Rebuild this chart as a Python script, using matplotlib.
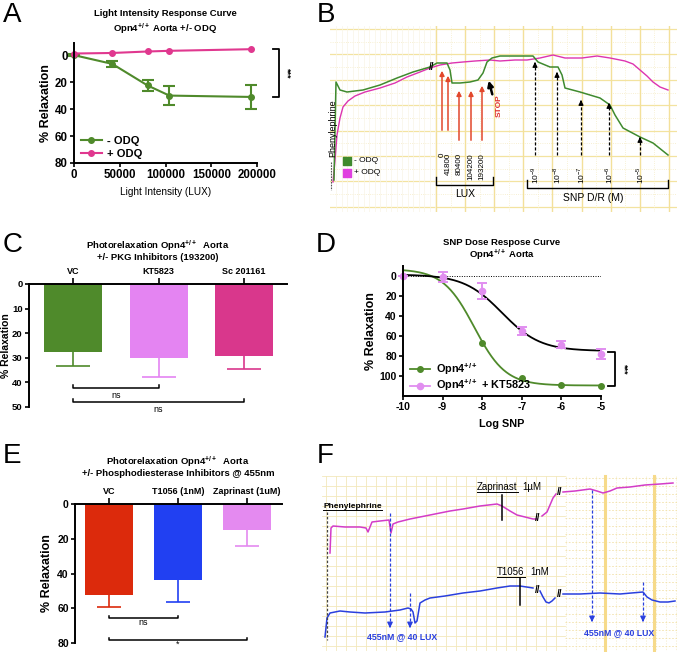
#!/usr/bin/env python3
"""
Photorelaxation figure: light response, traces, PKG/PDE inhibitors, SNP dose response
"""

import numpy as np
import matplotlib
matplotlib.use('Agg')
import matplotlib.pyplot as plt

plt.rcParams['font.family'] = ['Liberation Sans', 'DejaVu Sans']
plt.rcParams['mathtext.fontset'] = 'custom'
plt.rcParams['mathtext.rm'] = 'Liberation Sans'
plt.rcParams['mathtext.bf'] = 'Liberation Sans:bold'
plt.rcParams['axes.unicode_minus'] = False

# ---- A: light intensity response ----
lux = [0, 41800, 80400, 104200, 193200]
minus_odq = [0, 6.5, 22.5, 30, 31]
minus_odq_err = [0.5, 2.2, 4.2, 7, 9]
plus_odq = [-1.2, -1.6, -2.7, -3.2, -4.4]

# ---- B: tension recording (chart units) ----
b_pink_t = [333, 335, 337, 340, 343, 348, 355, 365, 380, 395, 407, 420, 430, 440, 452, 463,
            475, 490, 500, 515, 527, 540, 553, 565, 582, 597, 610, 625, 633, 640, 647, 653, 660, 668]
b_pink_y = [182, 160, 135, 118, 107, 101, 96, 92, 88, 83, 77, 72, 68, 65, 63, 62,
            61, 60, 61, 60, 60, 58, 55, 58, 58, 56, 58, 61, 64, 70, 76, 82, 87, 90]
b_green_t = [334, 336, 340, 347, 363, 380, 397, 413, 430, 437, 447, 450, 452, 460, 470, 478,
             483, 487, 492, 500, 533, 538, 550, 558, 562, 565, 580, 600, 610, 615, 623, 640, 653, 668]
b_green_y = [180, 82, 90, 92, 90, 85, 78, 72, 67, 63, 63, 70, 83, 83, 82, 80,
             73, 62, 58, 56, 56, 62, 67, 67, 75, 88, 92, 98, 105, 115, 128, 137, 143, 155]
lux_labels = ['0', '41800', '80400', '104200', '193200']
lux_arrow_t = [442, 448, 459, 471, 482]
lux_arrow_tip = [68, 73, 88, 88, 83]
lux_arrow_base = [133, 133, 143, 143, 143]
snp_labels = ['-9', '-8', '-7', '-6', '-5']
snp_arrow_t = [535, 557, 581, 609, 640]
snp_arrow_tip = [62, 72, 100, 103, 137]
snp_arrow_base = [155, 155, 155, 155, 155]

# ---- C: PKG inhibitors ----
pkg_groups = ['VC', 'KT5823', 'Sc 201161']
pkg_mean = [27.5, 30.2, 29.2]
pkg_err = [6.0, 7.8, 5.3]
pkg_colors = ['#4f8a2b', '#e484f2', '#d9378c']

# ---- D: SNP dose response ----
log_snp = [-10, -9, -8, -7, -6, -5]
opn_resp = [None, None, 67, 102, 108.5, 109.5]
kt_resp = [0, 1, 15, 55, 68.5, 78]
kt_err = [0, 5, 8, 4, 3.5, 5]
opn_fit = dict(bottom=-7, top=109.5, logec50=-8.2, hill=1.1)
kt_fit = dict(bottom=-1.5, top=75, logec50=-7.5, hill=0.9)

# ---- E: PDE inhibitors ----
pde_groups = ['VC', 'T1056 (1nM)', 'Zaprinast (1uM)']
pde_mean = [52.5, 44, 15]
pde_err = [6.5, 12.5, 9]
pde_colors = ['#dc2a0c', '#2140f2', '#e48af0']

# ---- F: tension recording (chart units) ----
f_pink_segs = [
    ([330, 331, 333, 345, 360, 366, 368, 372, 380, 389, 391, 393, 398, 410, 430, 450, 463, 480,
      497, 502, 510, 517, 525, 533, 537],
     [553, 528, 526, 527, 527, 528, 532, 522, 521, 520, 533, 524, 522, 519, 515, 511, 509, 506,
      504, 506, 511, 515, 517, 519, 519]),
    ([542, 547, 550, 553, 556], [516, 512, 505, 498, 494]),
    ([563, 575, 590, 597, 603, 610, 617, 630, 645, 660, 673],
     [492, 491, 489, 491, 493, 491, 488, 487, 485, 484, 483]),
]
f_blue_segs = [
    ([325, 327, 330, 340, 350, 365, 385, 400, 408, 411, 413, 415, 417, 420, 425, 430, 445, 463,
      480, 497, 510, 520, 533],
     [637, 618, 613, 611, 612, 613, 612, 610, 608, 609, 612, 623, 621, 603, 600, 598, 596, 593,
      591, 588, 586, 586, 588]),
    ([540, 543, 546, 549, 552, 555], [591, 597, 602, 603, 601, 598]),
    ([563, 580, 600, 620, 643, 647, 652, 660, 668, 675],
     [594, 594, 593, 594, 592, 597, 600, 602, 602, 601]),
]
f_light_t = [390, 410, 592, 643]
f_light_top = [513, 593, 490, 582]
f_light_tip = [628, 628, 622, 622]

GREEN = '#4f8a2b'
PINK = '#e0388f'
SUP = r'$^{\mathbf{+/+}}$'
W, H = 677, 655
fig = plt.figure(figsize=(W / 100, H / 100), dpi=100)


def px_axes(left, top, right, bottom):
    return fig.add_axes([left / W, 1 - bottom / H, (right - left) / W, (bottom - top) / H])


def ftext(x, y, s, **kw):
    kw.setdefault('ha', 'center')
    kw.setdefault('va', 'center')
    return fig.text(x / W, 1 - y / H, s, **kw)


def hill(x, bottom, top, logec50, hill):
    return bottom + (top - bottom) / (1 + 10 ** ((logec50 - x) * hill))


def style_graph(ax, size=7.5):
    for lab in ax.get_xticklabels() + ax.get_yticklabels():
        lab.set_fontweight('bold')
        lab.set_fontsize(size)
    ax.tick_params(width=1.2, length=3, pad=1.5)
    for sp in ax.spines.values():
        sp.set_linewidth(1.4)


def bar_errors(ax, xs, means, errs, colors, cap):
    for x, m, e, c in zip(xs, means, errs, colors):
        eb = ax.errorbar(x, m, yerr=[[0], [e]], fmt='none', ecolor=c, elinewidth=1.2,
                         capsize=cap, capthick=1.2)
        eb[1][0].set_visible(False)


def sig_bracket(ax, x0, x1, y, tick, label, dy, size=6.5):
    ax.plot([x0, x0, x1, x1], [y - tick, y, y, y - tick], color='k', lw=1.1, clip_on=False)
    ax.text((x0 + x1) / 2, y + dy, label, ha='center', va='center', fontsize=size)


def side_bracket(ax, xa, y0, y1, label):
    tr = ax.get_yaxis_transform()
    ax.plot([xa - 0.035, xa, xa, xa - 0.035], [y0, y0, y1, y1], color='k', lw=1.3,
            transform=tr, clip_on=False)
    ax.text(xa + 0.045, (y0 + y1) / 2, label, rotation=270, ha='center', va='center',
            fontsize=6.5, fontweight='bold', transform=tr)


# panel letters
for letter, (x, y) in zip('ABCDEF', [(12, 15), (326, 15), (13, 245), (326, 245), (12, 456), (325, 456)]):
    ftext(x, y, letter, fontsize=20)

# ================= A =================
ax = px_axes(74, 43, 257, 163)
ax.errorbar(lux, minus_odq, yerr=minus_odq_err, fmt='none', ecolor=GREEN, elinewidth=1.5,
            capsize=4, capthick=1.5, clip_on=False)
ax.plot(lux, minus_odq, color=GREEN, marker='o', ms=4, lw=1.5, clip_on=False, label='- ODQ')
ax.plot(lux, plus_odq, color=PINK, marker='o', ms=4, lw=1.5, clip_on=False, label='+ ODQ')
ax.set_xlim(0, 200000)
ax.set_ylim(80, -9)
ax.set_xticks([0, 50000, 100000, 150000, 200000])
ax.set_yticks([0, 20, 40, 60, 80])
ax.spines[['top', 'right']].set_visible(False)
style_graph(ax, 8.3)
ax.set_xlabel('Light Intensity (LUX)', fontsize=7.2, labelpad=4)
ax.set_ylabel('% Relaxation', fontsize=9, fontweight='bold', labelpad=2)
ax.legend(loc='lower left', bbox_to_anchor=(0.0, -0.02), frameon=False, handlelength=1.9,
          handletextpad=0.5, labelspacing=0.25, borderaxespad=0.2,
          prop={'weight': 'bold', 'size': 8})
side_bracket(ax, 1.12, plus_odq[-1], minus_odq[-1], '***')
ftext(165, 13, 'Light Intensity Response Curve', fontsize=6.8, fontweight='bold')
ftext(165, 29, 'Opn4' + SUP + ' Aorta +/- ODQ', fontsize=6.8, fontweight='bold')

# ================= B =================
ax = px_axes(330, 26, 677, 212)
ax.set_xlim(330, 677)
ax.set_ylim(212, 26)
ax.axis('off')
for gy in np.arange(29, 210, 25.4):
    ax.axhline(gy, color='#f3e3a0', lw=0.9, zorder=0)
    ax.axhline(gy + 12.7, color='#f5ebc4', lw=0.6, ls=':', zorder=0)
for gx in np.arange(436, 677, 29.1):
    ax.axvline(gx, color='#f3e09a', lw=1.0, zorder=0)
    ax.axvline(gx + 14.5, color='#f6edc8', lw=0.6, ls=':', zorder=0)
for gx in np.arange(336, 436, 5.5):
    ax.axvline(gx, color='#f8f4e6', lw=0.5, zorder=0)
ax.plot(b_pink_t, b_pink_y, color='#dd34b0', lw=1.0)
ax.plot(b_green_t, b_green_y, color='#3f8a2e', lw=1.1)
ax.text(432, 67, '//', fontsize=7, fontweight='bold', ha='center', va='center')
for t, tip, base, lab in zip(lux_arrow_t, lux_arrow_tip, lux_arrow_base, lux_labels):
    ax.annotate('', xy=(t, tip), xytext=(t, base),
                arrowprops=dict(arrowstyle='-|>', color='#e2472b', lw=1.1, mutation_scale=7))
    ax.text(t, 153, lab, rotation=90, ha='center', va='top', fontsize=5.8)
ax.plot([436, 436, 493, 493], [177, 185, 185, 177], color='k', lw=1.0)
ax.text(465, 194, 'LUX', ha='center', va='center', fontsize=7.5)
ax.annotate('', xy=(488, 78), xytext=(493, 97),
            arrowprops=dict(arrowstyle='-|>', color='k', lw=1.8, mutation_scale=8))
ax.text(499, 106, 'STOP', rotation=90, color='#e0302a', fontsize=6, fontweight='bold',
        ha='center', va='center')
for t, tip, base, lab in zip(snp_arrow_t, snp_arrow_tip, snp_arrow_base, snp_labels):
    ax.plot([t, t], [base, tip + 4], color='k', lw=0.9, ls=(0, (2.5, 1.5)))
    ax.annotate('', xy=(t, tip), xytext=(t, tip + 5),
                arrowprops=dict(arrowstyle='-|>', color='k', lw=0.9, mutation_scale=7))
    ax.text(t, 166, '10$^{%s}$' % lab, rotation=90, ha='center', va='top', fontsize=6)
ax.plot([527, 527, 668, 668], [180, 188, 188, 180], color='k', lw=1.0)
ax.text(593, 198, 'SNP D/R (M)', ha='center', va='center', fontsize=7.5)
ax.scatter([347], [161], marker='s', s=30, color='#3f8a2e')
ax.scatter([347], [173], marker='s', s=30, color='#e040e0')
ax.text(354, 161, '- ODQ', fontsize=6, va='center')
ax.text(354, 173, '+ ODQ', fontsize=6, va='center')
ax.text(333, 128, 'Phenylephrine', rotation=90, ha='center', va='center', fontsize=6.5)
ax.plot([331, 331], [162, 190], color='#555555', lw=0.8, ls=(0, (1.5, 1)))

# ================= C =================
ax = px_axes(29, 284, 287, 407)
xc = np.arange(len(pkg_groups))
ax.bar(xc, pkg_mean, width=0.68, color=pkg_colors)
bar_errors(ax, xc, pkg_mean, pkg_err, pkg_colors, 12)
ax.set_xlim(-0.515, 2.5)
ax.set_ylim(50, 0)
ax.set_yticks([0, 10, 20, 30, 40, 50])
ax.xaxis.tick_top()
ax.set_xticks(xc)
ax.set_xticklabels(pkg_groups)
ax.spines[['bottom', 'right']].set_visible(False)
style_graph(ax, 6.8)
for lab in ax.get_xticklabels():
    lab.set_fontsize(6.5)
ax.tick_params(axis='x', length=4, pad=2)
ax.set_ylabel('% Relaxation', fontsize=7.5, fontweight='bold')
ax.yaxis.set_label_coords(-0.07, 0.5)
sig_bracket(ax, 0, 1, 42.3, 1.2, 'ns', 2.9)
sig_bracket(ax, 0, 2, 48.0, 1.2, 'ns', 3.2)
ftext(158, 246, 'Photorelaxation Opn4' + SUP + '  Aorta', fontsize=6.8, fontweight='bold')
ftext(158, 257, '+/- PKG Inhibitors (193200)', fontsize=6.8, fontweight='bold')

# ================= D =================
ax = px_axes(403, 266, 601, 396)
xs = np.linspace(-10, -5, 200)
ax.axhline(0, color='k', lw=0.7, ls=(0, (1, 1.5)))
ax.plot(xs, hill(xs, **opn_fit), color=GREEN, lw=1.3)
ax.plot(xs, hill(xs, **kt_fit), color='k', lw=1.3)
ax.errorbar(log_snp, kt_resp, yerr=kt_err, fmt='none', ecolor='#e18ef0', elinewidth=1.4,
            capsize=3.5, capthick=1.4, clip_on=False)
opn_x = [x for x, v in zip(log_snp, opn_resp) if v is not None]
opn_y = [v for v in opn_resp if v is not None]
ax.plot(opn_x, opn_y, 'o', color=GREEN, ms=4, clip_on=False)
ax.plot(log_snp, kt_resp, 'o', color='#e18ef0', ms=4.5, clip_on=False)
ax.plot([], [], color=GREEN, marker='o', ms=4, lw=1.3, label='Opn4' + SUP)
ax.plot([], [], color='#e18ef0', marker='o', ms=4.5, lw=1.3, label='Opn4' + SUP + ' + KT5823')
ax.set_xlim(-10, -5)
ax.set_ylim(120, -10)
ax.set_yticks([0, 20, 40, 60, 80, 100])
ax.set_xticks(log_snp)
ax.spines[['top', 'right']].set_visible(False)
style_graph(ax, 7.5)
ax.set_xlabel('Log SNP', fontsize=7.8, fontweight='bold', labelpad=5)
ax.set_ylabel('% Relaxation', fontsize=9, fontweight='bold', labelpad=2)
ax.legend(loc='lower left', bbox_to_anchor=(0.0, -0.03), frameon=False, handlelength=1.9,
          handletextpad=0.5, labelspacing=0.05, borderaxespad=0.2,
          prop={'weight': 'bold', 'size': 7.8})
side_bracket(ax, 1.07, kt_resp[-1] - 2, opn_resp[-1], '***')
ftext(502, 243, 'SNP Dose Respose Curve', fontsize=6.8, fontweight='bold')
ftext(502, 255, 'Opn4' + SUP + ' Aorta', fontsize=6.8, fontweight='bold')

# ================= E =================
ax = px_axes(75, 504, 282, 643)
xe = np.arange(len(pde_groups))
ax.bar(xe, pde_mean, width=0.70, color=pde_colors)
bar_errors(ax, xe, pde_mean, pde_err, pde_colors, 8.5)
ax.set_xlim(-0.49, 2.51)
ax.set_ylim(80, 0)
ax.set_yticks([0, 20, 40, 60, 80])
ax.xaxis.tick_top()
ax.set_xticks(xe)
ax.set_xticklabels(pde_groups)
ax.spines[['bottom', 'right']].set_visible(False)
style_graph(ax, 7.5)
for lab in ax.get_xticklabels():
    lab.set_fontsize(6.5)
ax.tick_params(axis='x', length=4, pad=2)
ax.set_ylabel('% Relaxation', fontsize=9, fontweight='bold', labelpad=3)
sig_bracket(ax, 0, 1, 65.6, 1.4, 'ns', 2.8)
sig_bracket(ax, 0, 2, 78.3, 1.4, '*', 2.6)
ftext(178, 462, 'Photorelaxation Opn4' + SUP + '  Aorta', fontsize=6.8, fontweight='bold')
ftext(178, 473, '+/- Phosphodiesterase Inhibitors @ 455nm', fontsize=6.8, fontweight='bold')

# ================= F =================
ax = px_axes(322, 472, 677, 652)
ax.set_xlim(322, 677)
ax.set_ylim(652, 472)
ax.axis('off')
for gx in np.arange(326, 565, 10):
    ax.plot([gx, gx], [476, 650], color='#f3e8bc', lw=0.6, zorder=0)
for gy in np.arange(476, 651, 10):
    ax.plot([322, 565], [gy, gy], color='#f3e8bc', lw=0.6, zorder=0)
for gx in np.arange(566, 677, 10):
    ax.plot([gx, gx], [476, 650], color='#f5ecc8', lw=0.5, ls=(0, (2, 2)), zorder=0)
for gy in np.arange(478, 651, 8):
    ax.plot([565, 677], [gy, gy], color='#f1e1a8', lw=0.6, ls=(0, (2, 2)), zorder=0)
for gx in [605, 654]:
    ax.plot([gx, gx], [476, 650], color='#f6da8a', lw=2.2, zorder=0)
for t, y in f_pink_segs:
    ax.plot(t, y, color='#d33cc8', lw=1.1)
for t, y in f_blue_segs:
    ax.plot(t, y, color='#2a40de', lw=1.1)
for bx, by in [(538, 518), (560, 492), (538, 590), (560, 594)]:
    ax.text(bx, by, '//', fontsize=7, fontweight='bold', ha='center', va='center')
for t, top, tip in zip(f_light_t, f_light_top, f_light_tip):
    ax.plot([t, t], [top, tip - 4], color='#2a40de', lw=0.9, ls=(0, (2.5, 1.5)))
    ax.annotate('', xy=(t, tip), xytext=(t, tip - 5),
                arrowprops=dict(arrowstyle='-|>', color='#2a40de', lw=0.9, mutation_scale=8))
ax.text(402, 637, '455nM @ 40 LUX', color='#2a40de', fontsize=6.3, fontweight='bold',
        ha='center', va='center')
ax.text(619, 633, '455nM @ 40 LUX', color='#2a40de', fontsize=6.3, fontweight='bold',
        ha='center', va='center')
ax.plot([502, 502], [495, 520], color='k', lw=1.1)
ax.plot([520, 520], [578, 605], color='k', lw=1.1)
ax.plot([327, 327], [512, 640], color='#444444', lw=0.9, ls=(0, (2, 1.5)))
t_phe = ax.text(323, 507, 'Phenylephrine', fontsize=6, fontweight='bold', ha='left', va='center')
t_zap = ax.text(477, 487, 'Zaprinast', fontsize=7, ha='left', va='center')
ax.text(522, 487, '1\u00b5M', fontsize=7, ha='left', va='center')
t_t10 = ax.text(497, 572, 'T1056', fontsize=7, ha='left', va='center')
ax.text(530, 572, '1nM', fontsize=7, ha='left', va='center')

fig.canvas.draw()
inv = ax.transData.inverted()
for txt in [t_phe, t_zap, t_t10]:
    bb = txt.get_window_extent()
    (x0, y0), (x1, y1) = inv.transform([(bb.x0, bb.y0), (bb.x1, bb.y0)])
    ax.plot([x0, x1], [y0 - 0.3, y1 - 0.3], color='k', lw=0.7)

fig.savefig('out.png', dpi=100)
